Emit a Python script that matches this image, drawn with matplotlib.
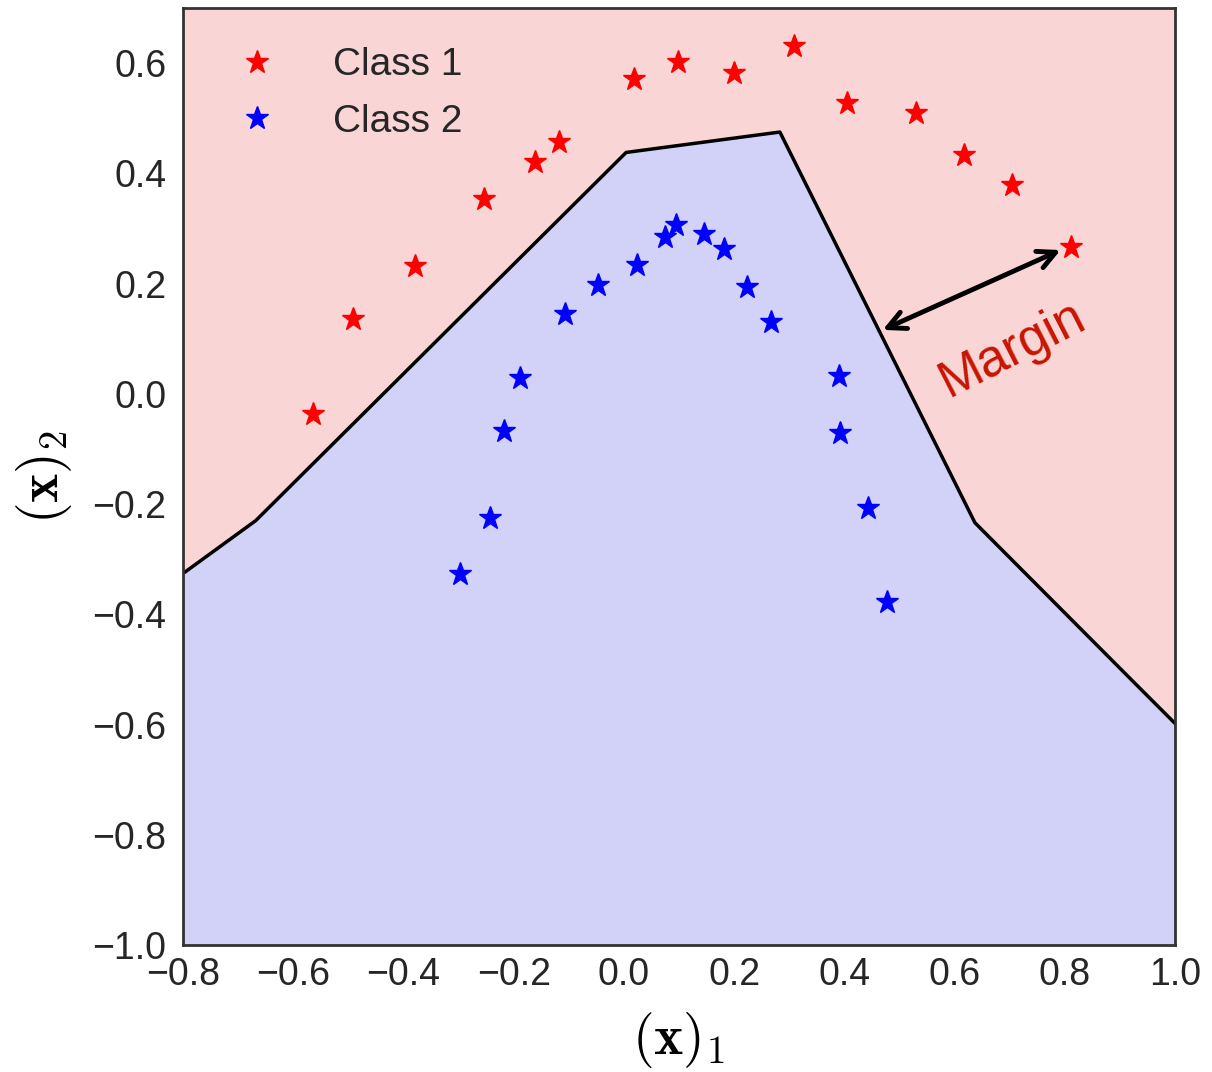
import matplotlib
matplotlib.use("Agg")
import matplotlib.pyplot as plt
import numpy as np

# ---- data ----
class1_x = [-0.564, -0.492, -0.379, -0.254, -0.161, -0.118, 0.018, 0.098, 0.200, 0.309, 0.405, 0.530, 0.617, 0.704, 0.811]
class1_y = [-0.036, 0.136, 0.232, 0.353, 0.420, 0.457, 0.571, 0.603, 0.582, 0.632, 0.527, 0.509, 0.433, 0.379, 0.266]

class2_x = [-0.297, -0.243, -0.218, -0.189, -0.107, -0.047, 0.024, 0.075, 0.095, 0.145, 0.182, 0.223, 0.267, 0.390, 0.392, 0.443, 0.477]
class2_y = [-0.326, -0.225, -0.067, 0.029, 0.145, 0.197, 0.234, 0.284, 0.306, 0.290, 0.263, 0.194, 0.130, 0.033, -0.071, -0.208, -0.377]

boundary_x = [-0.8, -0.668, 0.004, 0.283, 0.637, 0.927, 1.0]
boundary_y = [-0.326, -0.230, 0.438, 0.475, -0.234, -0.525, -0.598]

xticks = [-0.8, -0.6, -0.4, -0.2, 0.0, 0.2, 0.4, 0.6, 0.8, 1.0]
yticks = [-1.0, -0.8, -0.6, -0.4, -0.2, 0.0, 0.2, 0.4, 0.6]

arrow_start = (0.465, 0.114)
arrow_end = (0.797, 0.263)

plt.rcParams['font.family'] = ['Liberation Sans', 'DejaVu Sans']
plt.rcParams['mathtext.fontset'] = 'cm'

fig = plt.figure(figsize=(12.12, 10.72), dpi=100)
ax = fig.add_axes([0.151, 0.1185, 0.8185, 0.874])

ax.set_facecolor('#F9D5D6')
ax.fill_between(boundary_x, boundary_y, -1.0, color='#D2D1F8', lw=0, zorder=1)
ax.plot(boundary_x, boundary_y, color='black', lw=2.5, zorder=2)

ax.plot(class1_x, class1_y, '*', color='red', ms=17, ls='none', label='Class 1', zorder=3)
ax.plot(class2_x, class2_y, '*', color='blue', ms=17, ls='none', label='Class 2', zorder=3)

ax.annotate('', xy=arrow_end, xytext=arrow_start,
            arrowprops=dict(arrowstyle='<->', lw=3.5, color='black', mutation_scale=32),
            zorder=4)
ax.text(0.706, 0.080, 'Margin', color='#C81400', fontsize=37, rotation=27,
        ha='center', va='center', zorder=4)

ax.set_xlim(-0.8, 1.0)
ax.set_ylim(-1.0, 0.7)
ax.set_xticks(xticks)
ax.set_yticks(yticks)
ax.set_xticklabels([f"{t:.1f}".replace('-', '\u2212') for t in xticks])
ax.set_yticklabels([f"{t:.1f}".replace('-', '\u2212') for t in yticks])
ax.tick_params(axis='both', length=0, labelsize=27, labelcolor='#262626')
ax.tick_params(axis='y', pad=12)
ax.tick_params(axis='x', pad=9)

for s in ax.spines.values():
    s.set_color('#333333')
    s.set_linewidth(2)

ax.set_xlabel(r'$(\mathbf{x})_1$', fontsize=40, labelpad=12)
ax.set_ylabel(r'$(\mathbf{x})_2$', fontsize=40, labelpad=13)

leg = ax.legend(loc='upper left', frameon=False, fontsize=28, handletextpad=0.95,
                borderaxespad=0.3, labelspacing=0.53, handlelength=2.0,
                bbox_to_anchor=(0.008, 0.987))
for t in leg.get_texts():
    t.set_color('#262626')

fig.savefig('out.png', dpi=100)
